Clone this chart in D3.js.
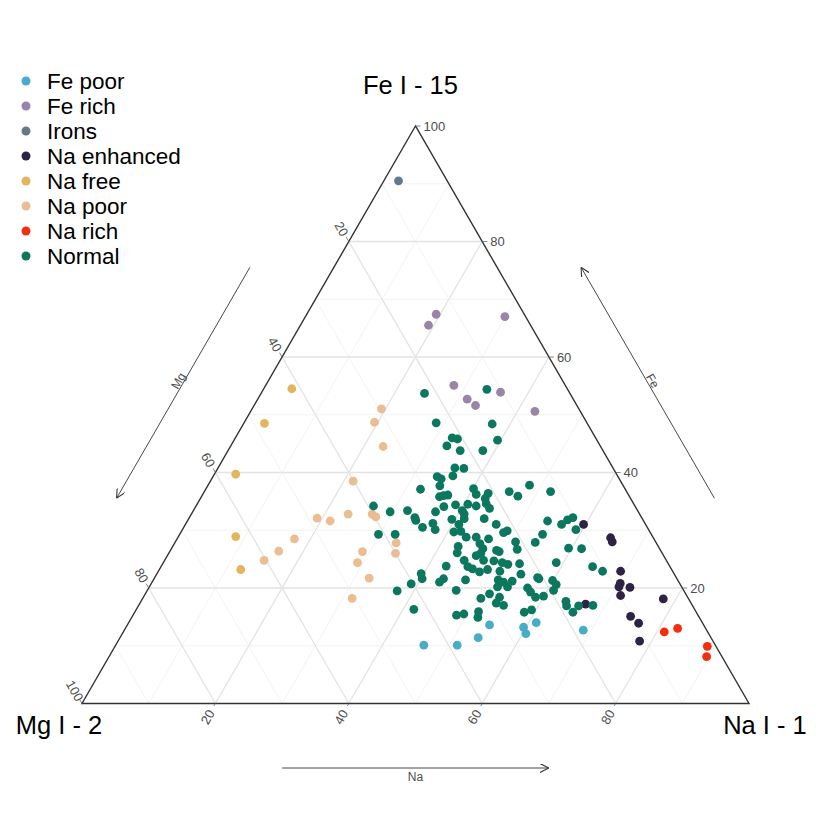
<!DOCTYPE html>
<html>
<head>
<meta charset="utf-8">
<script src="https://cdn.jsdelivr.net/npm/d3@7"></script>
<style>
  body { margin: 0; background: #fff; }
  svg { font-family: "Liberation Sans", Arial, sans-serif; }
</style>
</head>
<body>
<div id="ternary"></div>
<script>
// groupes et couleurs (ordre de la légende)
const GROUPS = ["Fe poor", "Fe rich", "Irons", "Na enhanced", "Na free", "Na poor", "Na rich", "Normal"];
const COLORS = ["#46ACC8", "#9A85A6", "#65798C", "#2E2345", "#E3B55F", "#EABD92", "#F2300F", "#0B775E"];
const TICKS = [20, 40, 60, 80, 100];
const GRID = [10, 20, 30, 40, 50, 60, 70, 80, 90];

// [Fe, Mg, Na] en %
const fePoor = [[10.1, 43.7, 46.2], [10.1, 38.7, 51.2], [11.4, 34.9, 53.7], [13.6, 32.1, 54.3],
  [13.2, 27.2, 59.6], [12.1, 27.4, 60.5], [14.0, 24.9, 61.1], [12.7, 18.5, 68.8]];
const feRich = [[55.1, 16.7, 28.2], [52.7, 15.9, 31.4], [51.6, 15.2, 33.2], [53.9, 10.3, 35.8],
  [50.6, 6.8, 42.6], [67.4, 13.2, 19.4], [65.5, 15.3, 19.2], [67.0, 3.1, 29.9]];
const irons = [[90.5, 7.3, 2.2]];
const naEnhanced = [[31.0, 9.3, 59.7], [28.7, 6.4, 64.9], [28.0, 6.5, 65.5], [22.9, 7.8, 69.3],
  [20.8, 8.9, 70.3], [20.2, 9.4, 70.4], [20.1, 7.8, 72.1], [18.7, 9.9, 71.4], [18.1, 3.8, 78.1],
  [15.1, 10.2, 74.7], [13.9, 9.6, 76.5], [10.8, 11.0, 78.2], [17.2, 15.9, 66.9]];
const naFree = [[54.5, 41.3, 4.2], [48.5, 48.4, 3.1], [39.7, 57.1, 3.2], [28.9, 62.5, 8.6], [23.2, 64.6, 12.2]];
const naPoor = [[51.0, 29.6, 19.4], [48.7, 31.8, 19.5], [44.5, 32.6, 22.9], [38.5, 40.1, 21.4],
  [32.1, 48.7, 19.2], [31.6, 47.0, 21.4], [32.8, 43.7, 23.5], [32.8, 40.1, 27.1], [32.3, 39.8, 27.9],
  [28.5, 53.9, 17.6], [26.4, 57.3, 16.3], [24.8, 60.3, 14.9], [27.8, 39.0, 33.2], [26.0, 40.0, 34.0],
  [26.3, 44.8, 28.9], [24.4, 46.5, 29.1], [21.7, 46.1, 32.2], [18.2, 50.4, 31.4]];
const naRich = [[12.4, 6.5, 81.1], [13.0, 4.2, 82.8], [9.9, 1.3, 88.8], [8.1, 2.3, 89.6]];
const normal = [[53.7, 21.8, 24.5], [54.4, 12.1, 33.5], [48.6, 22.6, 28.8], [48.4, 14.3, 37.3],
  [46.0, 21.5, 32.5], [45.8, 20.8, 33.4], [45.6, 14.9, 39.5], [44.6, 23.0, 32.4], [43.8, 21.4, 34.8],
  [43.8, 18.0, 38.2], [40.8, 23.7, 35.5], [40.7, 22.4, 36.9], [39.3, 27.1, 33.6], [38.9, 26.7, 34.4],
  [39.4, 24.7, 35.9], [37.7, 27.5, 34.8], [37.1, 30.7, 32.2], [37.2, 22.7, 40.1], [36.2, 22.8, 41.0],
  [36.4, 20.9, 42.7], [35.5, 21.8, 42.7], [36.7, 17.6, 45.7], [35.9, 16.7, 47.4], [37.8, 14.0, 48.2],
  [36.7, 11.4, 51.9], [35.8, 28.5, 35.7], [36.0, 27.8, 36.2], [36.1, 27.1, 36.8], [34.2, 39.2, 26.6],
  [33.2, 37.2, 29.6], [33.4, 34.5, 32.1], [32.2, 34.0, 33.8], [31.7, 34.1, 34.2], [30.5, 33.7, 35.8],
  [33.2, 30.4, 36.4], [34.1, 28.7, 37.2], [34.4, 26.8, 38.8], [34.5, 24.9, 40.6], [34.2, 23.8, 42.0],
  [34.6, 22.1, 43.3], [33.8, 22.0, 44.2], [33.4, 26.3, 40.3], [32.8, 26.3, 40.9], [31.9, 28.6, 39.5],
  [32.0, 26.7, 41.3], [32.0, 23.7, 44.3], [29.3, 40.9, 29.8], [29.3, 38.4, 32.3], [31.2, 31.8, 37.0],
  [30.1, 32.0, 37.9], [31.0, 28.0, 41.0], [29.7, 29.4, 40.9], [29.8, 28.3, 41.9], [28.8, 28.0, 43.2],
  [31.0, 22.4, 46.6], [29.6, 22.0, 48.4], [29.9, 21.3, 48.8], [31.6, 14.4, 54.0], [31.0, 12.6, 56.4],
  [31.8, 11.3, 56.9], [32.2, 10.3, 57.5], [30.1, 10.9, 59.0], [28.8, 26.5, 44.7], [28.5, 24.8, 46.7],
  [27.7, 26.5, 45.8], [26.8, 26.5, 46.7], [26.0, 27.2, 46.8], [27.2, 30.0, 42.8], [26.1, 30.7, 43.2],
  [25.6, 28.1, 46.3], [24.8, 27.4, 47.8], [26.5, 24.6, 48.9], [26.3, 24.3, 49.4], [28.0, 21.0, 51.0],
  [26.7, 21.4, 51.9], [27.9, 18.1, 54.0], [29.3, 16.3, 54.4], [26.9, 13.6, 59.5], [26.8, 11.7, 61.5],
  [24.8, 30.3, 44.9], [23.7, 30.3, 46.0], [23.3, 29.8, 46.9], [22.8, 29.0, 48.2], [23.2, 27.6, 49.2],
  [24.7, 25.9, 49.4], [24.4, 24.8, 50.8], [24.1, 24.1, 51.8], [24.2, 22.3, 53.5], [23.8, 33.5, 42.7],
  [22.5, 37.9, 39.6], [21.6, 38.2, 40.2], [20.7, 40.3, 39.0], [19.5, 43.0, 37.5], [21.0, 35.9, 43.1],
  [21.6, 35.0, 43.4], [21.4, 31.8, 46.8], [19.6, 34.1, 46.3], [22.9, 25.9, 51.2], [21.4, 26.9, 51.7],
  [20.2, 27.6, 52.2], [20.2, 26.1, 53.7], [21.2, 24.9, 53.9], [22.4, 23.0, 54.6], [21.0, 26.3, 52.7],
  [24.4, 16.7, 58.9], [21.8, 20.8, 57.4], [21.6, 20.7, 57.7], [21.3, 18.8, 59.9], [20.6, 18.6, 60.8],
  [19.6, 19.5, 60.9], [20.0, 23.2, 56.8], [19.3, 23.1, 57.6], [18.4, 22.8, 58.8], [18.6, 21.5, 59.9],
  [19.0, 29.4, 51.6], [18.2, 31.1, 50.7], [18.4, 28.2, 53.4], [17.4, 29.2, 53.4], [17.0, 28.3, 54.7],
  [17.7, 18.6, 63.7], [16.9, 18.9, 64.2], [16.9, 17.1, 66.0], [15.8, 18.5, 65.7], [17.0, 14.9, 68.1],
  [23.7, 11.6, 64.7], [22.9, 10.5, 66.6], [16.3, 42.1, 41.6], [15.3, 36.2, 48.5], [15.5, 35.0, 49.5],
  [15.9, 32.6, 51.5], [14.9, 33.2, 51.9], [15.8, 25.8, 58.4], [16.2, 24.5, 59.3]];

const SERIES = [fePoor, feRich, irons, naEnhanced, naFree, naPoor, naRich, normal];

const [width, height] = [830, 830];

// Na + Fe/2 sur l'horizontale, Fe sur la verticale
const xScale = d3.scaleLinear().domain([0, 100]).range([82, 749]);
const yScale = d3.scaleLinear().domain([0, 100]).range([703.5, 126]);

function project(fe, mg, na) {
    const s = fe + mg + na;
    fe = fe / s * 100;
    na = na / s * 100;
    return [xScale(na + fe / 2), yScale(fe)];
}

const svg = d3.select("#ternary").append("svg")
    .attr("width", width)
    .attr("height", height);

svg.append("defs").append("marker")
    .attr("id", "arrow")
    .attr("viewBox", "0 0 10 10")
    .attr("refX", 10).attr("refY", 5)
    .attr("markerWidth", 9).attr("markerHeight", 9)
    .attr("markerUnits", "userSpaceOnUse")
    .attr("orient", "auto")
    .append("path")
    .attr("d", "M0,0 L10,5 L0,10")
    .attr("fill", "none")
    .attr("stroke", "#333")
    .attr("stroke-width", 1.2);

// grille
const line = d3.line();
const grid = svg.append("g");
GRID.forEach(v => {
    const major = v % 20 == 0;
    const segs = [
        [project(v, 100 - v, 0), project(v, 0, 100 - v)],
        [project(100 - v, v, 0), project(0, v, 100 - v)],
        [project(100 - v, 0, v), project(0, 100 - v, v)]
    ];
    segs.forEach(s => grid.append("path")
        .attr("d", line(s))
        .attr("stroke", major ? "#E3E3E3" : "#EEEEEE")
        .attr("stroke-width", major ? 1.3 : 0.7)
        .attr("fill", "none"));
});

// bord du triangle
svg.append("path")
    .attr("d", line([project(100, 0, 0), project(0, 100, 0), project(0, 0, 100)]) + "Z")
    .attr("fill", "none")
    .attr("stroke", "#333")
    .attr("stroke-width", 1.4);

// graduations
const ticks = svg.append("g").attr("fill", "#4D4D4D").attr("font-size", 13);
TICKS.forEach(v => {
    // Fe, côté droit
    let p = project(v, 0, 100 - v);
    ticks.append("line").attr("x1", p[0]).attr("y1", p[1]).attr("x2", p[0] + 5).attr("y2", p[1])
        .attr("stroke", "#666").attr("stroke-width", 0.8);
    ticks.append("text").attr("x", p[0] + 8).attr("y", p[1])
        .attr("dy", "0.35em").text(v);

    // Mg, côté gauche
    p = project(100 - v, v, 0);
    ticks.append("line").attr("x1", p[0]).attr("y1", p[1])
        .attr("x2", p[0] - 2.5).attr("y2", p[1] - 4.3)
        .attr("stroke", "#666").attr("stroke-width", 0.8);
    let lx = p[0] - 0.5 * 14.5, ly = p[1] - 0.866 * 14.5;
    ticks.append("text").attr("transform", `translate(${lx},${ly}) rotate(60)`)
        .attr("text-anchor", "middle").attr("dy", "0.35em").text(v);

    // Na, en bas
    if (v < 100) {
        p = project(0, 100 - v, v);
        ticks.append("line").attr("x1", p[0]).attr("y1", p[1])
            .attr("x2", p[0] - 1.5).attr("y2", p[1] + 2.6)
            .attr("stroke", "#666").attr("stroke-width", 0.8);
        lx = p[0] - 0.5 * 15.5; ly = p[1] + 0.866 * 15.5;
        ticks.append("text").attr("transform", `translate(${lx},${ly}) rotate(-60)`)
            .attr("text-anchor", "middle").attr("dy", "0.35em").text(v);
    }
});

// flèches des axes, de 30 % à 70 % du côté
function arrow(a, b, off, label, rot, loff) {
    const p1 = [a[0] + off[0], a[1] + off[1]];
    const p2 = [b[0] + off[0], b[1] + off[1]];
    svg.append("line")
        .attr("x1", p1[0]).attr("y1", p1[1]).attr("x2", p2[0]).attr("y2", p2[1])
        .attr("stroke", "#333").attr("stroke-width", 0.9)
        .attr("marker-end", "url(#arrow)");
    const mx = (p1[0] + p2[0]) / 2 + loff[0], my = (p1[1] + p2[1]) / 2 + loff[1];
    svg.append("text")
        .attr("transform", `translate(${mx},${my}) rotate(${rot})`)
        .attr("text-anchor", "middle").attr("dy", "0.35em")
        .attr("font-size", 12).attr("fill", "#4D4D4D")
        .text(label);
}
arrow(project(70, 30, 0), project(30, 70, 0), [-65.5, -32], "Mg", -60, [-5, -2]);
arrow(project(30, 0, 70), project(70, 0, 30), [65.5, -32], "Fe", 60, [5, -2]);
arrow(project(0, 70, 30), project(0, 30, 70), [0, 64.5], "Na", 0, [0, 9]);

// titres des sommets
const apex = project(100, 0, 0), cornerL = project(0, 100, 0), cornerR = project(0, 0, 100);
svg.append("text").attr("x", apex[0] - 5).attr("y", apex[1] - 32)
    .attr("text-anchor", "middle").attr("font-size", 25.5).text("Fe I - 15");
svg.append("text").attr("x", cornerL[0] - 23).attr("y", cornerL[1] + 30)
    .attr("text-anchor", "middle").attr("font-size", 25.5).text("Mg I - 2");
svg.append("text").attr("x", cornerR[0] + 16).attr("y", cornerR[1] + 30)
    .attr("text-anchor", "middle").attr("font-size", 25.5).text("Na I - 1");

// points
SERIES.forEach((data, i) => {
    svg.append("g").selectAll("circle")
        .data(data)
        .join("circle")
        .attr("cx", d => project(d[0], d[1], d[2])[0])
        .attr("cy", d => project(d[0], d[1], d[2])[1])
        .attr("r", 4.4)
        .attr("fill", COLORS[i]);
});

// légende
const legendY = d3.scalePoint().domain(GROUPS).range([81, 256]);
const legend = svg.append("g");
GROUPS.forEach((g, i) => {
    legend.append("circle").attr("cx", 26).attr("cy", legendY(g)).attr("r", 4.5).attr("fill", COLORS[i]);
    legend.append("text").attr("x", 47).attr("y", legendY(g)).attr("dy", "0.35em")
        .attr("font-size", 22.5).text(g);
});
</script>
</body>
</html>
